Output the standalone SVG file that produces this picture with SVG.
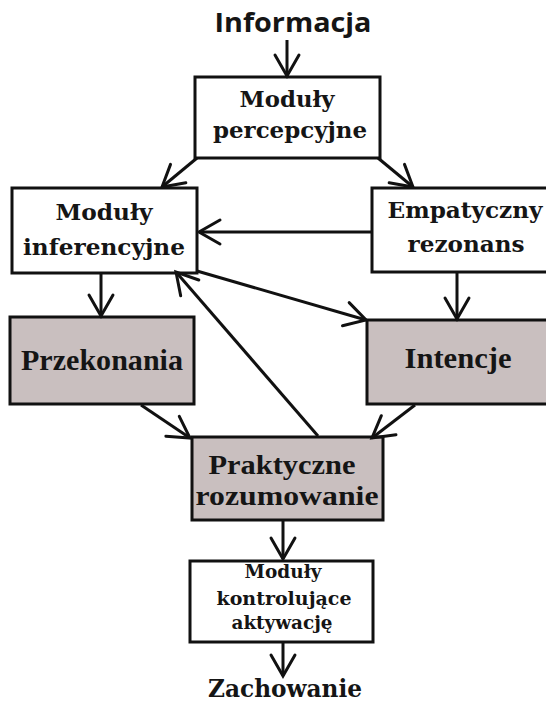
<svg xmlns="http://www.w3.org/2000/svg" width="546" height="702" viewBox="0 0 546 702">
<style>
.box{fill:#fff;stroke:#111;stroke-width:3}
.grey{fill:#c9bfbf;stroke:#111;stroke-width:3}
.t{font-family:"DejaVu Serif","Liberation Serif",serif;font-weight:bold;fill:#151515;text-anchor:middle}
.tr{font-family:"Liberation Serif","Times New Roman",serif;font-weight:bold;fill:#151515;text-anchor:middle}
.ts{font-family:"Open Sans","DejaVu Sans",sans-serif;font-weight:bold;fill:#151515;text-anchor:middle}
.c{fill:none;stroke:#111;stroke-width:3;marker-end:url(#ah)}
</style>
<defs>
<marker id="ah" viewBox="-26 -16 30 32" markerWidth="30" markerHeight="32" refX="0" refY="0" orient="auto" markerUnits="userSpaceOnUse">
<path d="M-21,-12 L0,0 L-21,12" fill="none" stroke="#111" stroke-width="3" stroke-linecap="round" stroke-linejoin="miter"/>
</marker>
</defs>
<rect width="546" height="702" fill="#fff"/>
<g id="informacja"><text class="ts" x="293" y="32" font-size="27" textLength="157" lengthAdjust="spacingAndGlyphs">Informacja</text></g>
<g id="percepcyjne">
<rect class="box" x="195" y="77" width="185" height="81"/>
<text class="t" x="287" y="107" font-size="23" textLength="95" lengthAdjust="spacingAndGlyphs">Moduły</text>
<text class="t" x="290" y="138" font-size="23" textLength="154" lengthAdjust="spacingAndGlyphs">percepcyjne</text>
</g>
<g id="inferencyjne">
<rect class="box" x="12" y="188" width="185" height="85"/>
<text class="t" x="104" y="220" font-size="23" textLength="97" lengthAdjust="spacingAndGlyphs">Moduły</text>
<text class="t" x="104" y="255" font-size="23" textLength="162" lengthAdjust="spacingAndGlyphs">inferencyjne</text>
</g>
<g id="empatyczny">
<rect class="box" x="372" y="188" width="180" height="84"/>
<text class="t" x="465" y="218" font-size="23" textLength="155" lengthAdjust="spacingAndGlyphs">Empatyczny</text>
<text class="t" x="466" y="252" font-size="23" textLength="117" lengthAdjust="spacingAndGlyphs">rezonans</text>
</g>
<g id="przekonania">
<rect class="grey" x="10" y="317" width="184" height="87"/>
<text class="tr" x="102" y="370" font-size="29" textLength="162" lengthAdjust="spacingAndGlyphs">Przekonania</text>
</g>
<g id="intencje">
<rect class="grey" x="367" y="320" width="185" height="84"/>
<text class="tr" x="458" y="368" font-size="29" textLength="107" lengthAdjust="spacingAndGlyphs">Intencje</text>
</g>
<g id="praktyczne">
<rect class="grey" x="192" y="437" width="191" height="83"/>
<text class="tr" x="282" y="474" font-size="28" textLength="147" lengthAdjust="spacingAndGlyphs">Praktyczne</text>
<text class="tr" x="287" y="505" font-size="28" textLength="183" lengthAdjust="spacingAndGlyphs">rozumowanie</text>
</g>
<g id="kontrolujace">
<rect class="box" x="190" y="561" width="183" height="81"/>
<text class="t" x="283" y="578" font-size="18" textLength="77" lengthAdjust="spacingAndGlyphs">Moduły</text>
<text class="t" x="284" y="605" font-size="18" textLength="135" lengthAdjust="spacingAndGlyphs">kontrolujące</text>
<text class="t" x="282" y="629" font-size="18" textLength="101" lengthAdjust="spacingAndGlyphs">aktywację</text>
</g>
<g id="zachowanie"><text class="t" x="285" y="697" font-size="24" textLength="154" lengthAdjust="spacingAndGlyphs">Zachowanie</text></g>
<g id="connectors">
<path class="c" d="M287,40 L287,76"/>
<path class="c" d="M197,158 L162,187"/>
<path class="c" d="M378,158 L413,187"/>
<path class="c" d="M372,232 L199,232"/>
<path class="c" d="M101,273 L101,316"/>
<path class="c" d="M457,272 L457,319"/>
<path class="c" d="M197,271 L366,320"/>
<path class="c" d="M318,436 L176,272"/>
<path class="c" d="M141,405 L190,438"/>
<path class="c" d="M415,405 L372,438"/>
<path class="c" d="M283,520 L283,559"/>
<path class="c" d="M283,642 L283,676"/>
</g>
</svg>
